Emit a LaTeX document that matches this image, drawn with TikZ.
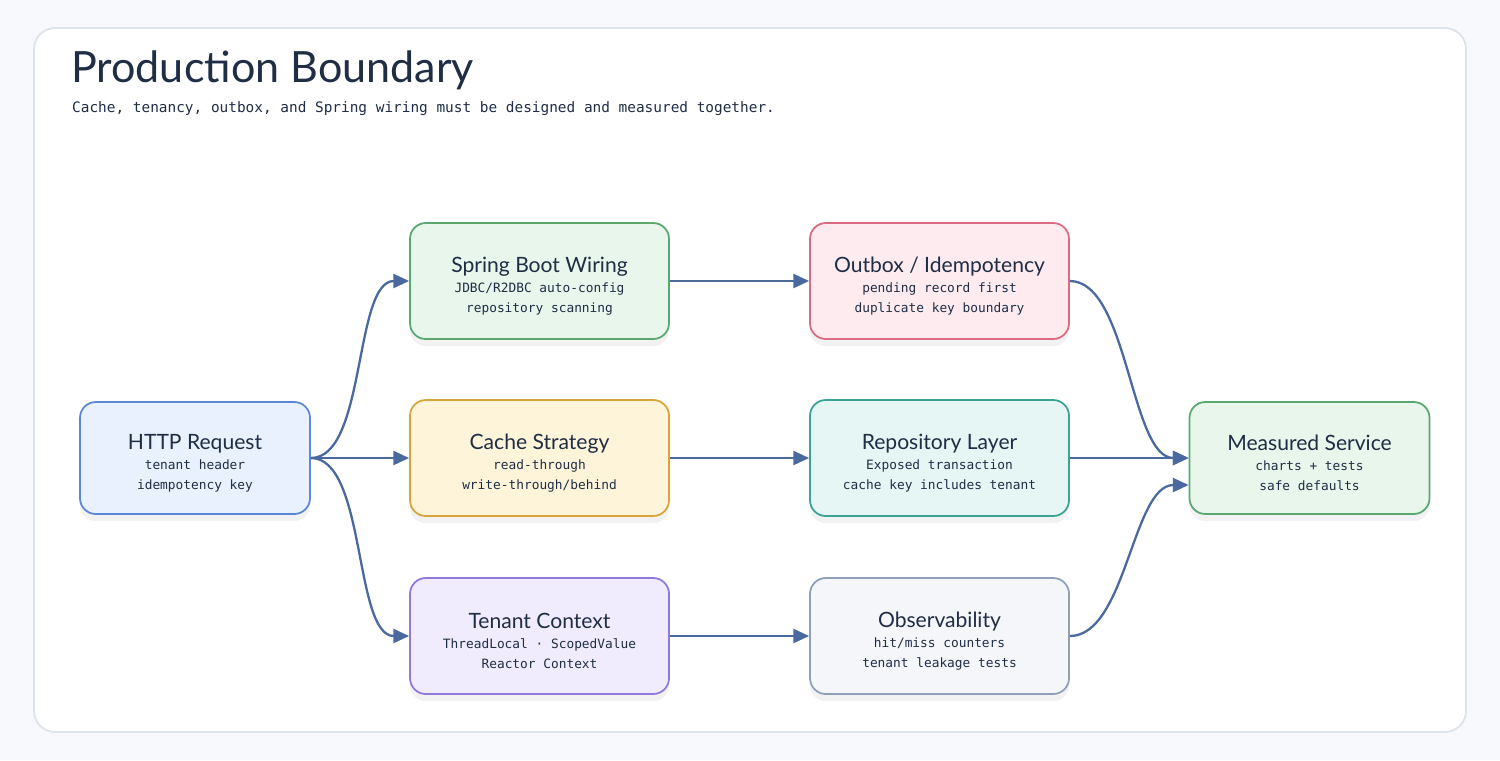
\documentclass[tikz,border=0pt]{standalone}
\usepackage{fontspec}
\setmainfont{Lato}
\newfontfamily\headfont{Lato}
\newfontfamily\codefont{DejaVu Sans Mono}
\usepackage{tikz}
\usetikzlibrary{arrows.meta, positioning, shadows}

\definecolor{pagebg}{HTML}{F7F9FC}
\definecolor{framedraw}{HTML}{DCE3EC}
\definecolor{ink}{HTML}{1F2D45}
\definecolor{flowblue}{HTML}{4A6A9F}
\definecolor{reqfill}{HTML}{E8F1FD}   \definecolor{reqdraw}{HTML}{5B87D6}
\definecolor{greenfill}{HTML}{E8F6EC} \definecolor{greendraw}{HTML}{5AA870}
\definecolor{amberfill}{HTML}{FEF4DA} \definecolor{amberdraw}{HTML}{D9A43A}
\definecolor{violetfill}{HTML}{F0EBFD}\definecolor{violetdraw}{HTML}{9278D9}
\definecolor{rosefill}{HTML}{FDEBEF}  \definecolor{rosedraw}{HTML}{DB6A82}
\definecolor{tealfill}{HTML}{E5F6F4}  \definecolor{tealdraw}{HTML}{3AA394}
\definecolor{slatefill}{HTML}{F4F6FA} \definecolor{slatedraw}{HTML}{8DA0B6}

\newcommand{\btitle}[1]{{\headfont\fontsize{12}{14}\selectfont\rule{0pt}{14.5pt}#1}}

\begin{document}
\begin{tikzpicture} [node distance = 2cm, on grid,
    box/.style = {rectangle, rounded corners=9pt, line width=1pt, text=ink,
        minimum width=5.18cm, minimum height=2.32cm, align=center,
        font=\codefont\fontsize{7.3}{11.3}\selectfont,
        drop shadow={shadow xshift=0pt, shadow yshift=-4pt, opacity=0.05, fill=black}},
    flow/.style = {-{Triangle[length=9pt, width=8pt]}, line width=1.3pt, draw=flowblue}]

    % page and frame
    \fill [pagebg] (0,0) rectangle (30,-15.2);
    \filldraw [fill=white, draw=framedraw, line width=1pt, rounded corners=12pt] (0.68,-0.56) rectangle (29.32,-14.64);

    \node (title) [anchor=base west, text=ink, font=\headfont\fontsize{24.5}{28}\selectfont] at (1.30,-1.64) {Production Boundary};
    \node (subtitle) [anchor=base west, text=ink, font=\codefont\fontsize{8.2}{10}\selectfont] at (1.32,-2.24)
        {Cache, tenancy, outbox, and Spring wiring must be designed and measured together.};

    \node (http) [box, fill=reqfill, draw=reqdraw, minimum width=4.6cm, minimum height=2.24cm] at (3.9,-9.16)
        {\btitle{HTTP Request}\\[0pt] tenant header\\ idempotency key};
    \node (cache) [box, fill=amberfill, draw=amberdraw, right = 6.89cm of http]
        {\btitle{Cache Strategy}\\[0pt] read-through\\ write-through/behind};
    \node (spring) [box, fill=greenfill, draw=greendraw, above = 3.54cm of cache]
        {\btitle{Spring Boot Wiring}\\[0pt] JDBC/R2DBC auto-config\\ repository scanning};
    \node (tenant) [box, fill=violetfill, draw=violetdraw, below = 3.56cm of cache]
        {\btitle{Tenant Context}\\[0pt] ThreadLocal · ScopedValue\\ Reactor Context};
    \node (outbox) [box, fill=rosefill, draw=rosedraw, right = 8cm of spring]
        {\btitle{Outbox / Idempotency}\\[0pt] pending record first\\ duplicate key boundary};
    \node (repo) [box, fill=tealfill, draw=tealdraw, right = 8cm of cache]
        {\btitle{Repository Layer}\\[0pt] Exposed transaction\\ cache key includes tenant};
    \node (obs) [box, fill=slatefill, draw=slatedraw, right = 8cm of tenant]
        {\btitle{Observability}\\[0pt] hit/miss counters\\ tenant leakage tests};
    \node (measured) [box, fill=greenfill, draw=greendraw, minimum width=4.8cm, minimum height=2.24cm, right = 7.4cm of repo]
        {\btitle{Measured Service}\\[0pt] charts + tests\\ safe defaults};

    \draw [flow] (http.east) to [out=0, in=180, looseness=0.7] (spring.west);
    \draw [flow] (http.east) -- (cache.west);
    \draw [flow] (http.east) to [out=0, in=180, looseness=0.7] (tenant.west);
    \draw [flow] (spring) -- (outbox);
    \draw [flow] (cache) -- (repo);
    \draw [flow] (tenant) -- (obs);
    \draw [flow] (outbox.east) to [out=0, in=180, looseness=0.7] (measured.west);
    \draw [flow] (repo) -- (measured);
    \draw [flow] (obs.east) to [out=0, in=180, looseness=0.75] ([yshift=-0.54cm]measured.west);

\end{tikzpicture}
\end{document}
